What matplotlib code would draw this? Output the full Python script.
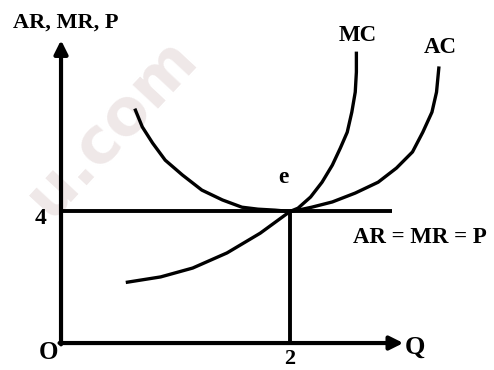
import matplotlib
matplotlib.use('Agg')
import matplotlib.pyplot as plt

plt.rcParams['font.family'] = ['Liberation Serif', 'DejaVu Serif']

# cost curves (Q, P)
mc_q = [0.58, 0.87, 1.15, 1.45, 1.74, 2.00, 2.07, 2.18, 2.28, 2.37, 2.44, 2.50, 2.54, 2.57, 2.58, 2.58]
mc_p = [1.85, 2.01, 2.28, 2.74, 3.34, 4.00, 4.10, 4.44, 4.89, 5.41, 5.93, 6.41, 7.02, 7.63, 8.24, 8.81]
ac_q = [0.65, 0.71, 0.80, 0.91, 1.06, 1.23, 1.41, 1.58, 1.72, 1.87, 2.00,
        2.07, 2.19, 2.37, 2.57, 2.77, 2.93, 3.07, 3.16, 3.24, 3.28, 3.30]
ac_p = [7.08, 6.57, 6.08, 5.56, 5.11, 4.65, 4.35, 4.13, 4.07, 4.04, 4.00,
        4.04, 4.13, 4.29, 4.56, 4.89, 5.32, 5.81, 6.41, 7.02, 7.63, 8.36]
price = 4
q_eq = 2
ar_end = 2.89

fig = plt.figure(figsize=(4.94, 3.70), dpi=100)
ax = fig.add_axes([0, 0, 1, 1])
ax.set_xlim(-0.533, 3.782)
ax.set_ylim(-0.82, 10.43)
ax.axis('off')

# faint watermark behind everything
ax.text(0.225, 0.655, 'u.com', rotation=47, fontsize=46, fontweight='bold',
        family='DejaVu Sans', color='#efe8e8', ha='center', va='center',
        transform=ax.transAxes, zorder=0)

ah = dict(arrowstyle='-|>', lw=3.0, color='black', mutation_scale=20, shrinkA=0, shrinkB=0)
ax.annotate('', xy=(0, 9.21), xytext=(0, -0.04), arrowprops=ah, zorder=3)
ax.annotate('', xy=(2.99, 0), xytext=(-0.013, 0), arrowprops=ah, zorder=3)

kw = dict(color='black', lw=2.8, solid_capstyle='butt', zorder=2)
ax.plot([0, ar_end], [price, price], **kw)
ax.plot([q_eq, q_eq], [0, price], **kw)
ax.plot(mc_q, mc_p, color='black', lw=2.4, zorder=2, solid_joinstyle='round')
ax.plot(ac_q, ac_p, color='black', lw=2.4, zorder=2, solid_joinstyle='round')

tk = dict(fontweight='bold', color='black', zorder=4)
ax.text(-0.42, 9.73, 'AR, MR, P', ha='left', va='center', fontsize=16, **tk)
ax.text(-0.18, 3.80, '4', ha='center', va='center', fontsize=17, **tk)
ax.text(-0.11, -0.30, 'O', ha='center', va='center', fontsize=18, **tk)
ax.text(2.0, -0.50, '2', ha='center', va='center', fontsize=16, **tk)
ax.text(3.09, -0.12, 'Q', ha='center', va='center', fontsize=19, **tk)
ax.text(1.94, 5.02, 'e', ha='center', va='center', fontsize=17, **tk)
ax.text(2.59, 9.36, 'MC', ha='center', va='center', fontsize=16.5, **tk)
ax.text(3.31, 9.00, 'AC', ha='center', va='center', fontsize=16.5, **tk)
ax.text(2.55, 3.22, 'AR = MR = P', ha='left', va='center', fontsize=16.5, **tk)

fig.savefig('out.png', dpi=100, facecolor='white')
plt.close(fig)
